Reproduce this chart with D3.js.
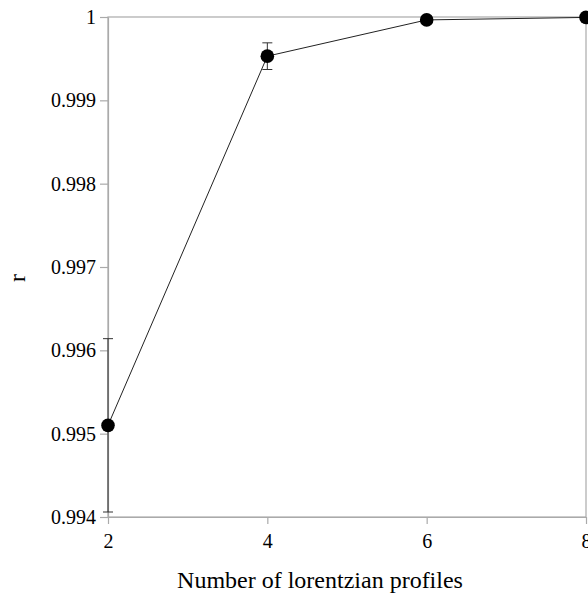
<!DOCTYPE html>
<html>
<head>
<meta charset="utf-8">
<script src="https://cdn.jsdelivr.net/npm/d3@7"></script>
<style>
  body { margin: 0; background: #fff; }
  svg { display: block; }
</style>
</head>
<body>
<svg></svg>
<script>
// data
var profiles = [2, 4, 6, 8];
var rValues = [0.99510, 0.999530, 0.999965, 0.999995];
var rErrors = [0.00104, 0.00016, 0, 0];
var yTicks = [0.994, 0.995, 0.996, 0.997, 0.998, 0.999, 1];
var xTicks = [2, 4, 6, 8];

var svgWidth = 588, svgHeight = 597;
var plotLeft = 108, plotRight = 586, plotTop = 17, plotBottom = 517;
var serif = "'Liberation Serif', 'Times New Roman', serif";

var svg = d3.select('svg')
    .attr("width", svgWidth)
    .attr("height", svgHeight)
    .style("font-family", serif);

var x = d3.scaleLinear().domain([2, 8]).range([plotLeft, plotRight]);
var y = d3.scaleLinear().domain([0.994, 1]).range([plotBottom, plotTop]);

// frame
svg.append("rect")
    .attr("x", plotLeft).attr("y", plotTop)
    .attr("width", plotRight - plotLeft).attr("height", plotBottom - plotTop)
    .attr("fill", "none")
    .attr("stroke", "#aaa")
    .attr("stroke-width", 1.2);

svg.append("g")
    .attr("transform", `translate(${plotLeft},0)`)
    .call(d3.axisLeft(y).tickValues(yTicks).tickFormat(d => d === 1 ? "1" : d3.format(".3f")(d)).tickSize(8).tickPadding(4).tickSizeOuter(0));

svg.append("g")
    .attr("transform", `translate(0,${plotBottom})`)
    .call(d3.axisBottom(x).tickValues(xTicks).tickFormat(d3.format("d")).tickSize(7).tickPadding(10).tickSizeOuter(0));

svg.selectAll(".domain").attr("stroke", "#aaa").attr("stroke-width", 1.2);
svg.selectAll(".tick line").attr("stroke", "#aaa").attr("stroke-width", 1.2);
svg.selectAll(".tick text")
    .attr("fill", "#000")
    .style("font-family", serif)
    .style("font-size", "20px");

// line
var line = d3.line()
    .x((d, i) => x(profiles[i]))
    .y(d => y(d));

svg.append("path")
    .datum(rValues)
    .attr("d", line)
    .attr("fill", "none")
    .attr("stroke", "#222")
    .attr("stroke-width", 1);

// error bars
profiles.forEach(function (p, i) {
    if (rErrors[i] <= 0) return;
    var g = svg.append("g").attr("class", "err");
    var lo = rValues[i] - rErrors[i], hi = rValues[i] + rErrors[i];
    g.append("line")
        .attr("x1", x(p)).attr("x2", x(p))
        .attr("y1", y(lo)).attr("y2", y(hi))
        .attr("stroke", "#333");
    [lo, hi].forEach(function (v) {
        g.append("line")
            .attr("x1", x(p) - 5).attr("x2", x(p) + 5)
            .attr("y1", y(v)).attr("y2", y(v))
            .attr("stroke", "#333");
    });
});

// points
svg.selectAll("circle")
    .data(rValues)
    .enter()
    .append("circle")
    .attr("cx", (d, i) => x(profiles[i]))
    .attr("cy", d => y(d))
    .attr("r", 6.8)
    .attr("fill", "#000");

// labels
svg.append("text")
    .attr("x", 320)
    .attr("y", 588)
    .attr("text-anchor", "middle")
    .style("font-size", "24px")
    .text("Number of lorentzian profiles");

svg.append("text")
    .attr("transform", "translate(25,278) rotate(-90)")
    .attr("text-anchor", "middle")
    .style("font-size", "24px")
    .text("r");
</script>
</body>
</html>
